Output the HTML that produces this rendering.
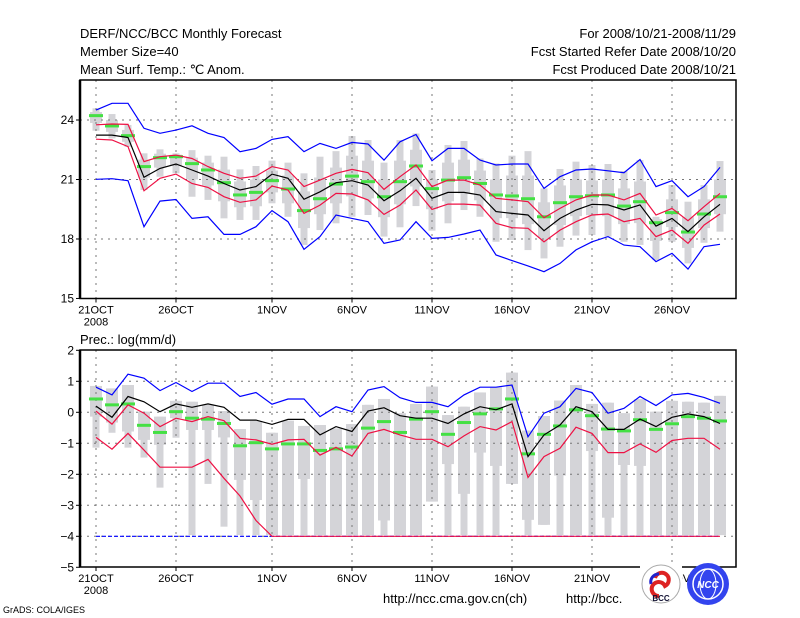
<!DOCTYPE html>
<html><head><meta charset="utf-8"><style>
html,body{margin:0;padding:0;background:#fff;}
svg{display:block;font-family:"Liberation Sans",sans-serif;}
</style></head><body>
<svg id="chart" width="800" height="618" viewBox="0 0 800 618">
<g font-size="13" fill="#000">
<text x="80" y="38">DERF/NCC/BCC Monthly Forecast</text>
<text x="80" y="56">Member Size=40</text>
<text x="80" y="74">Mean Surf. Temp.: ℃ Anom.</text>
<text x="736" y="38" text-anchor="end">For 2008/10/21-2008/11/29</text>
<text x="736" y="56" text-anchor="end">Fcst Started Refer Date 2008/10/20</text>
<text x="736" y="74" text-anchor="end">Fcst Produced Date 2008/10/21</text>
</g>
<g id="top"></g>
<g id="bot"></g>
<text x="80" y="344" font-size="13">Prec.: log(mm/d)</text>
<text x="383" y="603" font-size="13">http://ncc.cma.gov.cn(ch)</text>
<text x="566" y="603" font-size="13">http://bcc.</text>
<g>
<rect x="640" y="563" width="42" height="44" fill="#fff"/>
<circle cx="661" cy="584" r="19" fill="#fff" stroke="#aaa" stroke-width="1"/>
<path d="M655,578 a7,7 0 1,1 10,8 a7,7 0 1,0 -6,10" fill="none" stroke="#d22" stroke-width="4"/>
<path d="M651,584 a8,8 0 0,1 8,-10" fill="none" stroke="#22c" stroke-width="3"/>
<text x="661" y="601" font-size="8" text-anchor="middle" font-weight="bold" fill="#113">BCC</text>
</g>
<g>
<circle cx="708" cy="584" r="21" fill="#3344ee"/>
<circle cx="708" cy="584" r="15" fill="none" stroke="#fff" stroke-width="1.5"/>
<ellipse cx="708" cy="584" rx="8" ry="15" fill="none" stroke="#fff" stroke-width="1"/>
<text x="708" y="588" font-size="10" text-anchor="middle" font-weight="bold" font-style="italic" fill="#fff">NCC</text>
</g>
<text x="3" y="613" font-size="9">GrADS: COLA/IGES</text>
</svg>
<script>
const NS="http://www.w3.org/2000/svg";
const dayLabels=["21OCT","26OCT","1NOV","6NOV","11NOV","16NOV","21NOV","26NOV"];
const dayLabelIdx=[0,5,11,16,21,26,31,36];
const tempTicks=[24,21,18,15];
const precTicks=[2,1,0,-1,-2,-3,-4,-5];
// Temperature series (°C)
const tBlueTop=[24.5,24.84,24.84,23.58,23.33,23.49,23.71,23.33,23.11,22.4,22.57,23.02,23.16,22.4,22.82,22.57,22.87,22.79,21.98,22.9,23.27,21.95,22.57,22.57,21.98,21.73,21.78,21.78,20.55,21.14,21.48,21.53,21.44,21.34,22.01,20.64,20.94,20.13,20.64,21.61];
const tRedTop=[23.76,23.8,23.78,21.9,22.15,22.23,22.06,21.65,21.31,21.06,21.17,21.65,21.48,20.64,20.97,21.31,21.51,21.34,20.5,21.14,21.73,20.64,20.97,20.97,20.72,20.05,19.97,19.88,19.07,19.54,19.97,20.22,20.22,19.97,20.3,19.21,19.54,18.92,19.63,20.3];
const tMean=[23.24,23.24,23.12,21.11,21.56,21.78,21.48,21.17,20.8,20.47,20.64,21.27,21.06,20.0,20.38,20.84,20.94,20.72,19.93,20.43,21.06,20.05,20.35,20.35,20.22,19.38,19.29,19.21,18.42,19.04,19.46,19.75,19.72,19.46,19.72,18.65,19.04,18.37,19.12,19.75];
const tRedLow=[23.03,22.99,22.66,20.43,21.06,21.27,20.8,20.6,20.13,19.85,19.97,20.67,20.47,19.29,19.71,20.3,20.27,19.97,19.24,19.71,20.47,19.49,19.76,19.76,19.71,18.79,18.57,18.54,17.86,18.45,18.87,19.21,19.26,18.87,19.04,18.12,18.45,17.78,18.7,19.26];
const tBlueLow=[21.01,21.04,20.94,18.62,19.91,19.99,19.04,19.12,18.23,18.23,18.62,19.43,18.87,17.48,18.12,19.21,19.04,18.87,17.78,17.95,18.87,18.03,18.08,18.25,18.45,17.19,16.91,16.64,16.35,16.77,17.45,17.86,18.12,17.69,17.61,16.86,17.28,16.48,17.61,17.73];
const tMedian=[24.22,23.7,23.21,21.65,22.1,22.15,21.8,21.48,20.84,20.22,20.35,20.94,20.52,19.43,20.03,20.77,21.17,20.89,20.13,20.89,21.68,20.54,20.97,21.09,20.8,20.22,20.17,20.03,19.12,19.83,20.13,20.18,20.22,19.66,19.88,18.82,19.33,18.35,19.26,20.13];
const tMax=[24.59,24.3,23.75,22.32,22.52,22.32,22.48,22.2,22.15,21.51,21.68,21.95,21.85,21.31,22.15,22.43,23.19,22.99,21.85,22.99,23.32,21.48,22.74,22.94,22.06,21.81,22.2,22.43,20.55,21.53,21.9,21.73,21.78,21.43,21.98,19.12,20.72,19.88,20.72,21.93];
const tMin=[23.46,23.07,22.65,20.47,21.14,21.31,20.13,19.97,19.04,18.96,18.96,19.8,19.12,17.7,18.45,18.79,19.12,19.21,18.12,18.59,19.66,18.42,18.79,19.46,19.12,17.86,17.95,17.44,17.02,17.61,18.17,18.2,18.12,17.86,17.7,16.94,17.86,16.77,17.81,18.37];
const tQ3=[24.4,24.0,23.5,22.0,22.3,22.25,22.1,21.85,21.5,20.9,21.0,21.45,21.2,20.4,21.1,21.6,22.2,21.95,21.0,21.95,22.5,21.0,21.85,22.0,21.45,21.0,21.2,21.2,19.85,20.7,21.0,20.95,21.0,20.55,20.9,19.0,20.0,19.1,20.0,21.0];
const tQ1=[23.85,23.4,22.9,21.1,21.6,21.7,21.0,20.7,19.9,19.6,19.65,20.35,19.8,18.55,19.25,19.8,20.15,20.05,19.1,19.75,20.65,19.5,19.9,20.3,19.95,19.05,19.05,18.75,18.05,18.7,19.15,19.2,19.15,18.75,18.8,17.9,18.6,17.55,18.55,19.25];
// Precipitation series (log mm/d)
const pBlueTop=[0.81,0.56,1.23,1.1,0.7,0.96,0.67,0.94,0.94,0.51,0.64,0.26,0.43,0.43,-0.14,0.18,0.02,0.72,0.83,0.47,0.32,0.32,0.18,0.56,0.81,0.81,0.88,-0.79,-0.03,0.18,0.77,0.64,-0.03,0.13,0.51,0.22,0.56,0.61,0.48,0.29];
const pMean=[0.2,-0.16,0.51,0.34,0.02,0.27,0.16,0.27,0.16,-0.25,-0.25,-0.39,-0.23,-0.23,-0.73,-0.46,-0.62,0.04,0.15,-0.11,-0.19,-0.19,-0.36,-0.05,0.18,0.08,0.27,-1.43,-0.73,-0.41,0.18,0.02,-0.55,-0.55,-0.22,-0.46,-0.16,-0.05,-0.14,-0.36];
const pRedTop=[0.04,-0.38,0.24,-0.03,-0.46,-0.19,-0.3,-0.14,-0.27,-0.84,-0.89,-1.03,-0.89,-0.87,-1.38,-1.13,-1.41,-0.68,-0.55,-0.73,-0.87,-0.87,-1.11,-0.76,-0.46,-0.57,-0.3,-2.1,-1.43,-1.16,-0.48,-0.68,-1.3,-1.3,-1.02,-1.29,-0.91,-0.84,-0.84,-1.19];
const pRedLow=[-0.81,-1.19,-0.68,-1.22,-1.77,-1.77,-1.77,-1.52,-2.13,-2.7,-3.49,-4,-4,-4,-4,-4,-4,-4,-4,-4,-4,-4,-4,-4,-4,-4,-4,-4,-4,-4,-4,-4,-4,-4,-4,-4,-4,-4,-4,-4];
const pBlueLow=[-4,-4,-4,-4,-4,-4,-4,-4,-4,-4,-4,-4,-4,-4,-4,-4,-4,-4,-4,-4,-4,-4,-4,-4,-4,-4,-4,-4,-4,-4,-4,-4,-4,-4,-4,-4,-4,-4,-4,-4];
const pMedian=[0.43,0.24,0.27,-0.42,-0.65,0.02,-0.19,-0.22,-0.36,-1.08,-0.98,-1.18,-1.02,-1.02,-1.23,-1.18,-1.12,-0.51,-0.3,-0.65,-0.22,0.02,-0.71,-0.33,-0.05,0.11,0.43,-1.34,-0.71,-0.44,0.08,-0.11,-0.54,-0.6,-0.24,-0.55,-0.37,-0.14,-0.19,-0.28];
const pMax=[0.85,0.77,0.88,0.02,-0.14,0.37,0.34,0.24,0.04,-0.54,-0.28,-0.66,-0.27,-0.44,-0.41,-0.52,-0.38,0.24,0.43,-0.03,0.27,0.83,-0.09,0.18,0.64,0.81,1.28,-0.59,-0.12,0.38,0.88,0.27,0.31,-0.03,0.42,0.02,0.37,0.34,0.31,0.53];
const pMin=[-1.14,-0.66,-1.14,-1.46,-2.43,-0.82,-3.96,-2.31,-3.69,-3.96,-3.96,-3.96,-3.96,-3.96,-3.96,-3.96,-3.96,-3.96,-3.96,-3.96,-3.96,-2.88,-3.96,-3.96,-3.96,-3.96,-2.31,-3.96,-3.63,-3.96,-3.96,-3.96,-3.96,-3.96,-3.96,-3.96,-3.96,-3.96,-3.96,-3.96];
const pQ1=[-0.14,-0.33,-0.62,-0.89,-1.05,-0.19,-0.57,-0.57,-0.81,-2.18,-2.83,-3.96,-3.96,-2.15,-3.96,-3.96,-3.96,-3.96,-3.49,-3.96,-3.96,-2.88,-1.67,-2.63,-1.3,-1.73,-2.31,-3.47,-3.63,-2.04,-3.96,-1.25,-3.4,-1.7,-1.73,-3.96,-3.96,-3.96,-3.96,-3.96];

const X0=80,X1=736;
function xd(d){return 96+16*d;}
function yT(v){return 120+(24-v)*19.83;}
function yB(v){return 412.3-v*31;}

function mk(parent,tag,attrs){const e=document.createElementNS(NS,tag);for(const k in attrs)e.setAttribute(k,attrs[k]);parent.appendChild(e);return e;}

function panel(g,top,bottom,ys,ticks,gridVals,mx,mn,q3,q1,med,lines,name){
  // boxes
  for(let i=0;i<mx.length;i++){
    const w=mk(g,'rect',{x:xd(i)-3.5,y:ys(mx[i]),width:7,height:Math.max(0,ys(mn[i])-ys(mx[i])),fill:'#d4d4d8'});
    
    
    const b=mk(g,'rect',{x:xd(i)-6,y:ys(q3[i]),width:12,height:Math.max(0,ys(q1[i])-ys(q3[i])),fill:'#d4d4d8'});
    
    
  }
  // grid
  for(const v of gridVals){
    const l=mk(g,'line',{x1:X0,x2:X1,y1:ys(v),y2:ys(v),stroke:'#777','stroke-dasharray':'2,5'});
    
    
  }
  for(const d of dayLabelIdx){
    const l=mk(g,'line',{x1:xd(d),x2:xd(d),y1:top,y2:bottom,stroke:'#777','stroke-dasharray':'2,5'});
    
    
  }
  // medians
  for(let i=0;i<med.length;i++){
    const m=mk(g,'rect',{x:xd(i)-7,y:ys(med[i])-1.5,width:14,height:3,fill:'#44e044'});
    
    
  }
  // lines
  for(const [arr,col,nm,dash] of lines){
    const p=mk(g,'polyline',{points:arr.map((v,i)=>xd(i)+','+ys(v).toFixed(1)).join(' '),fill:'none',stroke:col,'stroke-width':1.2});
    if(dash)p.setAttribute('stroke-dasharray',dash);
    
    
  }
  // frame
  const f=mk(g,'rect',{x:X0,y:top,width:X1-X0,height:bottom-top,fill:'none',stroke:'#000','stroke-width':1.5});
  
  
  mk(g,'line',{x1:X0,x2:X0,y1:top,y2:bottom,stroke:'#000','stroke-width':2.5});
  // y ticks
  for(const v of ticks){
    const t=mk(g,'line',{x1:X0-4,x2:X0,y1:ys(v),y2:ys(v),stroke:'#000'});
    
    
    const tx=mk(g,'text',{x:X0-6,y:ys(v)+4,'text-anchor':'end','font-size':12});
    tx.textContent=String(v).replace('-','\u2212');
    
    
  }
  // x labels
  dayLabelIdx.forEach((d,k)=>{
    const t=mk(g,'line',{x1:xd(d),x2:xd(d),y1:bottom,y2:bottom+4,stroke:'#000'});
    
    
    const tx=mk(g,'text',{x:xd(d),y:bottom+15,'text-anchor':'middle','font-size':11});
    tx.textContent=dayLabels[k];
    
    
  });
  const yr=mk(g,'text',{x:xd(0),y:bottom+27,'text-anchor':'middle','font-size':11});
  yr.textContent='2008';
  
  
}
panel(document.getElementById('top'),80,298.5,yT,tempTicks,[24,21,18],tMax,tMin,tQ3,tQ1,tMedian,
 [[tBlueTop,'#0000ff','temp-max-line'],[tBlueLow,'#0000ff','temp-min-line'],[tRedTop,'#ee1144','temp-upper-line'],[tRedLow,'#ee1144','temp-lower-line'],[tMean,'#000','temp-mean-line']],'temp');
panel(document.getElementById('bot'),350,567,yB,precTicks,[1,0,-1,-2,-3,-4],pMax,pMin,pMax,pQ1,pMedian,
 [[pBlueTop,'#0000ff','prec-max-line'],[pBlueLow,'#0000ff','prec-min-line','4,2'],[pRedLow,'#ee1144','prec-lower-line'],[pRedTop,'#ee1144','prec-upper-line'],[pMean,'#000','prec-mean-line']],'prec');
</script>
</body></html>
